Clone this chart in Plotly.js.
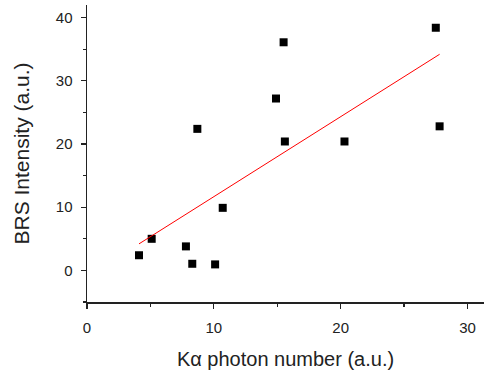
<!DOCTYPE html>
<html><head><meta charset="utf-8">
<script src="https://cdn.plot.ly/plotly-3.0.1.min.js"></script>
<style>html,body{margin:0;padding:0;background:#fff;}#chart{width:485px;height:372px;}</style>
</head><body><div id="chart"></div>
<script>
const kaPhotons = [4.1, 5.1, 7.8, 8.3, 8.7, 10.1, 10.7, 14.9, 15.5, 15.6, 20.3, 27.5, 27.8];
const brsIntensity = [2.4, 5.0, 3.8, 1.05, 22.4, 0.95, 9.9, 27.2, 36.1, 20.4, 20.4, 38.4, 22.8];
const fitX = [4.1, 27.8];
const fitY = [4.2, 34.2];
const xTicks = [0, 10, 20, 30];
const yTicks = [0, 10, 20, 30, 40];

const font = 'Liberation Sans, Arial, sans-serif';
const data = [
  {x: kaPhotons, y: brsIntensity, type: 'scatter', mode: 'markers',
   marker: {symbol: 'square', size: 8, color: '#000'}, hoverinfo: 'skip'},
  {x: fitX, y: fitY, type: 'scatter', mode: 'lines',
   line: {color: '#ff0000', width: 1}, hoverinfo: 'skip'}
];
const axisCommon = {
  showgrid: false, zeroline: false, showline: true, linecolor: '#222', linewidth: 1.5,
  ticks: 'outside', ticklen: 5, tickwidth: 1.2, tickcolor: '#222',
  tickfont: {family: font, size: 15, color: '#222'},
  minor: {ticks: 'outside', ticklen: 3, tickwidth: 1.2, tickcolor: '#222', dtick: 5}
};
const layout = {
  width: 485, height: 372,
  margin: {l: 87, r: 1, t: 5, b: 70},
  paper_bgcolor: '#fff', plot_bgcolor: '#fff',
  showlegend: false,
  xaxis: Object.assign({}, axisCommon, {
    range: [0, 31.3], tickvals: xTicks, ticktext: xTicks.map(String),
    ticklabelstandoff: 6,
    title: {text: 'K\u03b1 photon number (a.u.)', font: {family: font, size: 20, color: '#222'}, standoff: 17}
  }),
  yaxis: Object.assign({}, axisCommon, {
    range: [-5, 42], tickvals: yTicks, ticktext: yTicks.map(String),
    ticklabelstandoff: 5,
    title: {text: 'BRS Intensity (a.u.)', font: {family: font, size: 21, color: '#222'}, standoff: 20}
  })
};
Plotly.newPlot('chart', data, layout, {displayModeBar: false, staticPlot: true});
</script>
</body></html>
